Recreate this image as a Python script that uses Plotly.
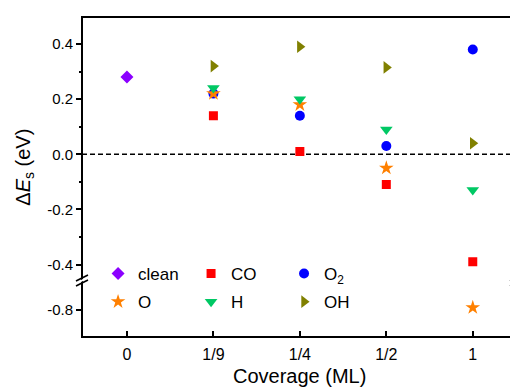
import plotly.graph_objects as go

coverage = ["0", "1/9", "1/4", "1/2", "1"]

clean_x = ["0"]
clean_y = [0.28]

co_x = ["1/9", "1/4", "1/2", "1"]
co_y = [0.14, 0.01, -0.11, -0.39]

o2_x = ["1/9", "1/4", "1/2", "1"]
o2_y = [0.22, 0.14, 0.03, 0.38]

o_x_upper = ["1/9", "1/4", "1/2"]
o_y_upper = [0.22, 0.18, -0.05]
o_x_lower = ["1"]
o_y_lower = [-0.79]

h_x = ["1/9", "1/4", "1/2", "1"]
h_y = [0.24, 0.20, 0.09, -0.13]

oh_x = ["1/9", "1/4", "1/2", "1"]
oh_y = [0.32, 0.39, 0.315, 0.04]

upper_tickvals = [-0.4, -0.2, 0.0, 0.2, 0.4]
upper_ticktext = ["-0.4", "-0.2", "0.0", "0.2", "0.4"]
lower_tickvals = [-0.8]
lower_ticktext = ["-0.8"]

FONT = "Liberation Sans, Arial, sans-serif"
BREAK = 0.1766

fig = go.Figure()

def add(x, y, name, symbol, color, size, yaxis="y", legend="legend", showlegend=True, group=None):
    fig.add_trace(go.Scatter(
        x=x, y=y, mode="markers", name=name, xaxis="x", yaxis=yaxis,
        marker=dict(symbol=symbol, color=color, size=size, line=dict(width=0)),
        legend=legend, showlegend=showlegend, legendgroup=group or name,
    ))

add(clean_x, clean_y, "clean", "diamond", "#8B00FF", 10)
add(co_x, co_y, "CO", "square", "#FF0000", 9)
add(o2_x, o2_y, "O<sub>2</sub>", "circle", "#0000FF", 10)
add(o_x_upper, o_y_upper, "O", "star", "#FF8000", 11, legend="legend2")
add(o_x_lower, o_y_lower, "O", "star", "#FF8000", 11, yaxis="y2", legend="legend2", showlegend=False, group="O")
add(h_x, h_y, "H", "triangle-down", "#00C864", 11, legend="legend2")
add(oh_x, oh_y, "OH", "triangle-right", "#808000", 11, legend="legend2")

tickfont = dict(family=FONT, size=15, color="black")
legfont = dict(family=FONT, size=17, color="black")

shapes = [
    dict(type="line", xref="paper", yref="y", x0=0, x1=1, y0=0, y1=0,
         line=dict(color="black", width=1.5, dash="5px,3px"), layer="below"),
    dict(type="rect", xref="paper", yref="paper", x0=0, x1=1, y0=0, y1=1,
         line=dict(color="black", width=2), layer="above"),
]
for xa in (0, 1):
    shapes.append(dict(type="path", xref="paper", yref="paper",
                       xsizemode="pixel", ysizemode="pixel", xanchor=xa, yanchor=BREAK,
                       path="M -4,-3.5 L 4,1.5 L 4,3.5 L -4,-1.5 Z",
                       fillcolor="white", line=dict(width=0), layer="above"))
    for off in (-2.5, 2.5):
        shapes.append(dict(type="line", xref="paper", yref="paper",
                           xsizemode="pixel", ysizemode="pixel", xanchor=xa, yanchor=BREAK,
                           x0=-6, x1=6, y0=-3 + off, y1=3 + off,
                           line=dict(color="black", width=1.6), layer="above"))

# page body has an 8px default margin, so the figure is sized/offset to compensate
fig.update_layout(
    width=510, height=381,
    margin=dict(l=74, r=2, t=9, b=52, autoexpand=False),
    paper_bgcolor="white", plot_bgcolor="white",
    font=dict(family=FONT, color="black"),
    xaxis=dict(type="category", categoryorder="array", categoryarray=coverage,
               range=[-0.52, 4.5], anchor="y2", showgrid=False, zeroline=False,
               showline=False, ticks="inside", ticklen=6, tickwidth=2, tickcolor="black",
               automargin=False, ticklabelstandoff=6,
               tickfont=dict(family=FONT, size=16, color="black")),
    yaxis=dict(domain=[BREAK, 1], range=[-0.458, 0.498], anchor="x",
               tickmode="array", tickvals=upper_tickvals, ticktext=upper_ticktext,
               showgrid=False, zeroline=False, showline=False, automargin=False,
               ticks="outside", ticklen=5, tickwidth=2, tickcolor="black", tickfont=tickfont,
               minor=dict(tickmode="linear", tick0=0, dtick=0.1, ticks="outside",
                          ticklen=2, tickwidth=2, tickcolor="black", showgrid=False)),
    yaxis2=dict(domain=[0, BREAK], range=[-0.898, -0.691], anchor="x",
                tickmode="array", tickvals=lower_tickvals, ticktext=lower_ticktext,
                showgrid=False, zeroline=False, showline=False, automargin=False,
                ticks="outside", ticklen=5, tickwidth=2, tickcolor="black", tickfont=tickfont),
    legend=dict(orientation="h", x=0.037, y=0.197, xanchor="left", yanchor="middle",
                entrywidth=48, entrywidthmode="pixels", font=legfont, bgcolor="rgba(0,0,0,0)"),
    legend2=dict(orientation="h", x=0.037, y=0.109, xanchor="left", yanchor="middle",
                 entrywidth=48, entrywidthmode="pixels", font=legfont, bgcolor="rgba(0,0,0,0)"),
    shapes=shapes,
    annotations=[
        dict(text="Coverage (ML)", xref="paper", yref="paper", x=0.5, y=-0.122,
             xanchor="center", yanchor="middle", showarrow=False,
             font=dict(family=FONT, size=20, color="black")),
        dict(text="\u0394<i>E</i><sub>s</sub> (eV)", xref="paper", yref="paper",
             x=-0.133, y=0.53, xanchor="center", yanchor="middle", textangle=-90,
             showarrow=False, font=dict(family=FONT, size=20, color="black")),
    ],
)

fig.write_html("out.html")
